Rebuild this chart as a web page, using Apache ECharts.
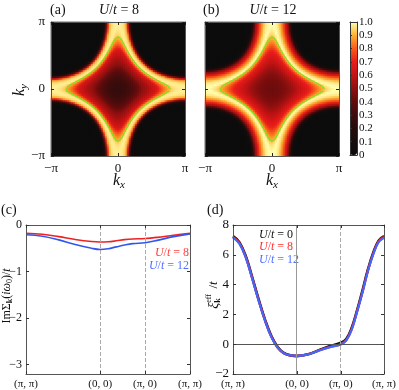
<!DOCTYPE html>
<html>
<head>
<meta charset="utf-8">
<script src="https://cdn.jsdelivr.net/npm/echarts@6/dist/echarts.min.js"></script>
<style>
  html, body { margin: 0; padding: 0; background: #fff; }
  #chart { width: 399px; height: 390px; }
</style>
</head>
<body>
<div id="chart"></div>
<script>
// band energy at (pi,pi), (0,0), (pi,0); fixes the xi(k) map used for (a),(b)
const XI_CORNERS = [7.2, -0.8, 0]
// spectral weight vs xi, read along cuts of maps (a) and (b)
const XI_GRID = [-0.8, -0.71, -0.56, -0.3, -0.2, -0.108, -0.062, -0.024, 0, 0.1, 0.2, 0.28, 0.36, 0.44, 0.55, 0.69, 0.85, 1.0, 1.3, 1.6, 2.5, 7.2]
const WEIGHT_U8 = [0.27, 0.35, 0.5, 0.65, 0.8, 0.9, 0.95, 0.97, 0.98, 0.97, 0.93, 0.88, 0.72, 0.55, 0.3, 0.1, 0.03, 0.01, 0, 0, 0, 0]
const WEIGHT_U12 = [0.43, 0.48, 0.58, 0.72, 0.82, 0.9, 0.95, 0.98, 1.0, 0.98, 0.95, 0.9, 0.87, 0.83, 0.77, 0.68, 0.58, 0.5, 0.2, 0.03, 0, 0]

// green contour, one octant (axis tip to diagonal), units of pi
const FS_KX = [0.782, 0.77, 0.75, 0.70, 0.65, 0.60, 0.50, 0.45, 0.40, 0.35, 0.32]
const FS_KY = [0, 0.025, 0.042, 0.072, 0.098, 0.123, 0.18, 0.213, 0.248, 0.29, 0.32]

const COLOR_STOPS = ['#0c0c0c', '#170c0c', '#260c0c', '#3e0c0c', '#600c0c', '#8e1010', '#c21414', '#e81c1c', '#f85a1a', '#fbb030', '#ffffb0']

const PATH_LABELS = ['(π, π)', '(0, 0)', '(π, 0)', '(π, π)']
const PATH_POS_C = [0, 0.452, 0.726, 1]
const PATH_POS_D = [0, 0.424, 0.714, 1]

// (c) Im self energy
const C_X = [0, 0.1, 0.2, 0.3, 0.4, 0.452, 0.5, 0.55, 0.6, 0.65, 0.726, 0.8, 0.9, 1.0]
const C_U8 = [-0.18, -0.2, -0.25, -0.31, -0.355, -0.365, -0.36, -0.34, -0.315, -0.3, -0.29, -0.265, -0.22, -0.18]
const C_U12 = [-0.21, -0.24, -0.32, -0.42, -0.5, -0.525, -0.51, -0.47, -0.43, -0.4, -0.38, -0.33, -0.25, -0.19]
const C_YTICKS = [0, -1, -2, -3]

// (d) effective dispersion
const D_X = [0, 0.042, 0.085, 0.127, 0.17, 0.212, 0.254, 0.297, 0.339, 0.382, 0.424, 0.497, 0.569, 0.642, 0.714, 0.75, 0.786, 0.821, 0.857, 0.893, 0.929, 0.964, 1]
const D_U0 = [7.25, 6.85, 5.9, 4.5, 3.0, 1.65, 0.55, -0.2, -0.6, -0.75, -0.8, -0.68, -0.4, -0.12, 0.1, 0.35, 1.1, 2.25, 3.6, 5.0, 6.15, 6.95, 7.25]
const D_U8 = [7.2, 6.8, 5.85, 4.45, 2.95, 1.6, 0.5, -0.25, -0.62, -0.75, -0.78, -0.68, -0.42, -0.18, 0.0, 0.28, 1.02, 2.2, 3.5, 4.95, 6.1, 6.9, 7.2]
const D_U12 = [7.15, 6.75, 5.8, 4.4, 2.9, 1.58, 0.48, -0.25, -0.62, -0.75, -0.78, -0.68, -0.43, -0.2, -0.02, 0.25, 0.98, 2.15, 3.45, 4.9, 6.05, 6.85, 7.15]

const N = 67
const FONT = '"Liberation Serif", "DejaVu Serif", serif'

function interp (xs, ys, x) {
  if (x <= xs[0]) return ys[0]
  for (let i = 1; i < xs.length; i++) {
    if (x <= xs[i]) {
      const f = (x - xs[i - 1]) / (xs[i] - xs[i - 1])
      return ys[i - 1] + f * (ys[i] - ys[i - 1])
    }
  }
  return ys[ys.length - 1]
}

// xi = a + b (cx + cy) + d cx cy, pinned to the three corner values
const xiA = XI_CORNERS[2] + (XI_CORNERS[0] + XI_CORNERS[1] - 2 * XI_CORNERS[2]) / 4
const xiD = xiA - XI_CORNERS[2]
const xiB = (XI_CORNERS[1] - XI_CORNERS[0]) / 4
function xiAt (kx, ky) {
  const cx = Math.cos(kx)
  const cy = Math.cos(ky)
  return xiA + xiB * (cx + cy) + xiD * cx * cy
}

function buildMap (weights) {
  const out = []
  for (let i = 0; i < N; i++) {
    const kx = -Math.PI + (i + 0.5) * 2 * Math.PI / N
    for (let j = 0; j < N; j++) {
      const ky = -Math.PI + (j + 0.5) * 2 * Math.PI / N
      out.push([i, j, interp(XI_GRID, weights, xiAt(kx, ky))])
    }
  }
  return out
}

function fsLoop () {
  const q = FS_KX.map((x, i) => [x, FS_KY[i]])
  const quad = q.concat(q.slice(0, -1).reverse().map(p => [p[1], p[0]]))
  const loop = []
  quad.forEach(p => loop.push([p[0], p[1]]))
  quad.slice(1).reverse().forEach(p => loop.push([-p[0], p[1]]))
  quad.slice(1).forEach(p => loop.push([-p[0], -p[1]]))
  quad.slice(1).reverse().forEach(p => loop.push([p[0], -p[1]]))
  return loop.map(p => [p[0] * Math.PI, p[1] * Math.PI])
}

const zip = (xs, ys) => xs.map((x, i) => [x, ys[i]])

const ctx = document.createElement('canvas').getContext('2d')
function fontOf (p) {
  return (p.it ? 'italic ' : '') + (p.b ? 'bold ' : '') + p.s + 'px ' + FONT
}
// little math label built from pieces; anchor: left / center / right
function mathLabel (x, y, parts, color, anchor, rot) {
  let w = 0
  const kids = parts.map(p => {
    const font = fontOf(p)
    ctx.font = font
    const el = {
      type: 'text', x: w, y: p.dy || 0,
      style: { text: p.t, font: font, fill: color, align: 'left', verticalAlign: 'middle', textAlign: 'left', textVerticalAlign: 'middle' }
    }
    if (p.adv !== false) w += ctx.measureText(p.t).width
    return el
  })
  const shift = anchor === 'left' ? 0 : (anchor === 'right' ? w : w / 2)
  kids.forEach(k => { k.x -= shift })
  return { type: 'group', x: x, y: y, rotation: rot || 0, silent: true, children: kids }
}
function uOver (val, size) {
  return [{ t: 'U', s: size, it: true }, { t: '/', s: size }, { t: 't', s: size, it: true }, { t: ' = ' + val, s: size }]
}

const piFmt = v => Math.abs(v) < 1e-6 ? '0' : (v > 0 ? 'π' : '−π')
const minus = v => String(v).replace('-', '−')
const labelStyle = { fontFamily: FONT, fontSize: 13, color: '#111' }

function piAxis (grid, pos, showLabel) {
  return {
    type: 'value', gridIndex: grid, position: pos, z: 5,
    min: -Math.PI, max: Math.PI, interval: Math.PI,
    axisLine: { onZero: false, lineStyle: { color: '#555', width: 1 } },
    axisTick: { inside: true, length: 3, lineStyle: { color: '#222' } },
    axisLabel: Object.assign({ show: showLabel, formatter: piFmt, margin: 6, showMinLabel: true, showMaxLabel: true }, labelStyle),
    splitLine: { show: false }
  }
}
function catAxis (grid) {
  return { type: 'category', gridIndex: grid, show: false, data: Array.from({ length: N }, (_, i) => i) }
}
function pathAxis (grid, pos, marks, showLabel) {
  return {
    type: 'value', gridIndex: grid, position: pos, min: 0, max: 1, z: 5,
    axisLine: { onZero: false, lineStyle: { color: '#555' } },
    axisTick: { inside: true, length: 3, customValues: marks, lineStyle: { color: '#333' } },
    axisLabel: {
      show: showLabel, customValues: marks, fontFamily: FONT, fontSize: 11, color: '#111', margin: 5,
      formatter: v => PATH_LABELS[marks.findIndex(m => Math.abs(m - v) < 1e-6)]
    },
    splitLine: { show: false }
  }
}
function plainYAxis (grid, pos, opt) {
  return Object.assign({
    type: 'value', gridIndex: grid, position: pos, z: 5,
    axisLine: { onZero: false, lineStyle: { color: '#555' } },
    axisTick: { inside: true, length: 3, lineStyle: { color: '#333' } },
    axisLabel: Object.assign({ margin: 4, formatter: minus }, labelStyle),
    splitLine: { show: false }
  }, opt)
}
const cTicks = { inside: true, length: 3, customValues: C_YTICKS, lineStyle: { color: '#333' } }

const vline = (x, type, color) => ({ xAxis: x, lineStyle: { type: type, color: color, width: 1 } })

let myChart = echarts.init(document.getElementById('chart'))
myChart.setOption({
  animation: false,
  backgroundColor: '#fff',
  grid: [
    { left: 51, top: 22, width: 134, height: 134 },
    { left: 205, top: 22, width: 134, height: 134 },
    { left: 26, top: 225, width: 164, height: 154 },
    { left: 233, top: 225, width: 158, height: 149 },
    { left: 350, top: 22, width: 7, height: 133 }
  ],
  xAxis: [
    piAxis(0, 'bottom', true), piAxis(0, 'top', false), catAxis(0),
    piAxis(1, 'bottom', true), piAxis(1, 'top', false), catAxis(1),
    pathAxis(2, 'bottom', PATH_POS_C, true), pathAxis(2, 'top', PATH_POS_C, false),
    pathAxis(3, 'bottom', PATH_POS_D, true), pathAxis(3, 'top', PATH_POS_D, false),
    { type: 'value', gridIndex: 4, min: 0, max: 1, z: 10, axisLine: { onZero: false, lineStyle: { color: '#333' } }, axisTick: { show: false }, axisLabel: { show: false }, splitLine: { show: false } },
    { type: 'value', gridIndex: 4, position: 'top', min: 0, max: 1, z: 10, axisLine: { onZero: false, lineStyle: { color: '#333' } }, axisTick: { show: false }, axisLabel: { show: false }, splitLine: { show: false } }
  ],
  yAxis: [
    piAxis(0, 'left', true), piAxis(0, 'right', false), catAxis(0),
    piAxis(1, 'left', false), piAxis(1, 'right', false), catAxis(1),
    plainYAxis(2, 'left', { min: -3.2, max: 0, axisLabel: Object.assign({ customValues: C_YTICKS, margin: 4, formatter: minus }, labelStyle, { fontSize: 12 }), axisTick: cTicks }),
    plainYAxis(2, 'right', { min: -3.2, max: 0, axisLabel: { show: false }, axisTick: cTicks }),
    plainYAxis(3, 'left', { min: -2, max: 8, interval: 2 }),
    plainYAxis(3, 'right', { min: -2, max: 8, interval: 2, axisLabel: { show: false } }),
    {
      type: 'value', gridIndex: 4, position: 'right', min: 0, max: 1, interval: 0.1, z: 10,
      axisLine: { onZero: false, lineStyle: { color: '#333' } },
      axisTick: { show: false },
      axisLabel: { fontFamily: FONT, fontSize: 11, color: '#111', margin: 2, showMinLabel: true, showMaxLabel: true, formatter: v => v < 1e-6 ? '0' : v.toFixed(1) },
      splitLine: { show: false }
    },
    {
      type: 'value', gridIndex: 4, position: 'left', min: 0, max: 1, interval: 0.1, z: 10,
      axisLine: { onZero: false, lineStyle: { color: '#333' } },
      axisTick: { inside: true, length: 2, lineStyle: { color: '#333' } },
      axisLabel: { show: false },
      splitLine: { show: false }
    }
  ],
  visualMap: {
    type: 'continuous', min: 0, max: 1, seriesIndex: [0, 1],
    inRange: { color: COLOR_STOPS },
    left: 350, top: 22, itemWidth: 7, itemHeight: 133, padding: 0,
    calculable: false, hoverLink: false
  },
  series: [
    { type: 'heatmap', xAxisIndex: 2, yAxisIndex: 2, data: buildMap(WEIGHT_U8), progressive: 0, silent: true, itemStyle: { borderWidth: 0 } },
    { type: 'heatmap', xAxisIndex: 5, yAxisIndex: 5, data: buildMap(WEIGHT_U12), progressive: 0, silent: true, itemStyle: { borderWidth: 0 } },
    { type: 'line', xAxisIndex: 0, yAxisIndex: 0, data: fsLoop(), showSymbol: false, silent: true, z: 4, lineStyle: { color: '#7ee01c', width: 1.2 } },
    { type: 'line', xAxisIndex: 3, yAxisIndex: 3, data: fsLoop(), showSymbol: false, silent: true, z: 4, lineStyle: { color: '#7ee01c', width: 1.2 } },
    {
      type: 'line', xAxisIndex: 6, yAxisIndex: 6, data: [], silent: true,
      markLine: { silent: true, symbol: 'none', label: { show: false }, data: [vline(PATH_POS_C[1], 'dashed', '#aaa'), vline(PATH_POS_C[2], 'dashed', '#aaa')] }
    },
    { type: 'line', xAxisIndex: 6, yAxisIndex: 6, data: zip(C_X, C_U8), smooth: 0.4, showSymbol: false, lineStyle: { color: '#ee2222', width: 1.6 } },
    { type: 'line', xAxisIndex: 6, yAxisIndex: 6, data: zip(C_X, C_U12), smooth: 0.4, showSymbol: false, lineStyle: { color: '#3355ee', width: 1.6 } },
    {
      type: 'line', xAxisIndex: 8, yAxisIndex: 8, data: [], silent: true,
      markLine: { silent: true, symbol: 'none', label: { show: false }, data: [vline(PATH_POS_D[1], 'solid', '#999'), vline(PATH_POS_D[2], 'dashed', '#aaa'), { yAxis: 0, lineStyle: { type: 'solid', color: '#555', width: 1 } }] }
    },
    { type: 'line', xAxisIndex: 8, yAxisIndex: 8, data: zip(D_X, D_U0), smooth: 0.4, showSymbol: false, lineStyle: { color: '#111', width: 2.6 } },
    { type: 'line', xAxisIndex: 8, yAxisIndex: 8, data: zip(D_X, D_U8), smooth: 0.4, showSymbol: false, lineStyle: { color: '#e02020', width: 2.4 } },
    { type: 'line', xAxisIndex: 8, yAxisIndex: 8, data: zip(D_X, D_U12), smooth: 0.4, showSymbol: false, lineStyle: { color: '#4466ff', width: 2.2 } }
  ],
  graphic: [
    mathLabel(50, 10, [{ t: '(a)', s: 14 }], '#111', 'left'),
    mathLabel(119, 10, uOver('8', 14), '#111', 'center'),
    mathLabel(203, 10, [{ t: '(b)', s: 14 }], '#111', 'left'),
    mathLabel(273, 10, uOver('12', 14), '#111', 'center'),
    mathLabel(20, 90, [{ t: 'k', s: 16, it: true }, { t: 'y', s: 11, it: true, dy: 4 }], '#111', 'center', Math.PI / 2),
    mathLabel(119, 181, [{ t: 'k', s: 16, it: true }, { t: 'x', s: 11, it: true, dy: 4 }], '#111', 'center'),
    mathLabel(272, 181, [{ t: 'k', s: 16, it: true }, { t: 'x', s: 11, it: true, dy: 4 }], '#111', 'center'),
    mathLabel(1, 210, [{ t: '(c)', s: 14 }], '#111', 'left'),
    mathLabel(207, 210, [{ t: '(d)', s: 14 }], '#111', 'left'),
    mathLabel(7, 296, [
      { t: 'ImΣ', s: 12 }, { t: 'k', s: 8, b: true, dy: 3 }, { t: '(', s: 12 }, { t: 'iω', s: 12, it: true },
      { t: '0', s: 8, dy: 3 }, { t: ')/', s: 12 }, { t: 't', s: 12, it: true }
    ], '#111', 'center', Math.PI / 2),
    mathLabel(214, 295, [
      { t: 'ξ', s: 14, it: true }, { t: 'eff', s: 8, dy: -5, adv: false }, { t: 'k', s: 8, b: true, dy: 4 },
      { t: '   /', s: 13 }, { t: 't', s: 13, it: true }
    ], '#111', 'center', Math.PI / 2),
    mathLabel(189, 253, uOver('8', 12), '#ff4040', 'right'),
    mathLabel(189, 266, uOver('12', 12), '#5070ff', 'right'),
    mathLabel(259, 235, uOver('0', 12), '#111', 'left'),
    mathLabel(259, 247, uOver('8', 12), '#ff3030', 'left'),
    mathLabel(259, 260, uOver('12', 12), '#5070ff', 'left')
  ]
})
</script>
</body>
</html>
